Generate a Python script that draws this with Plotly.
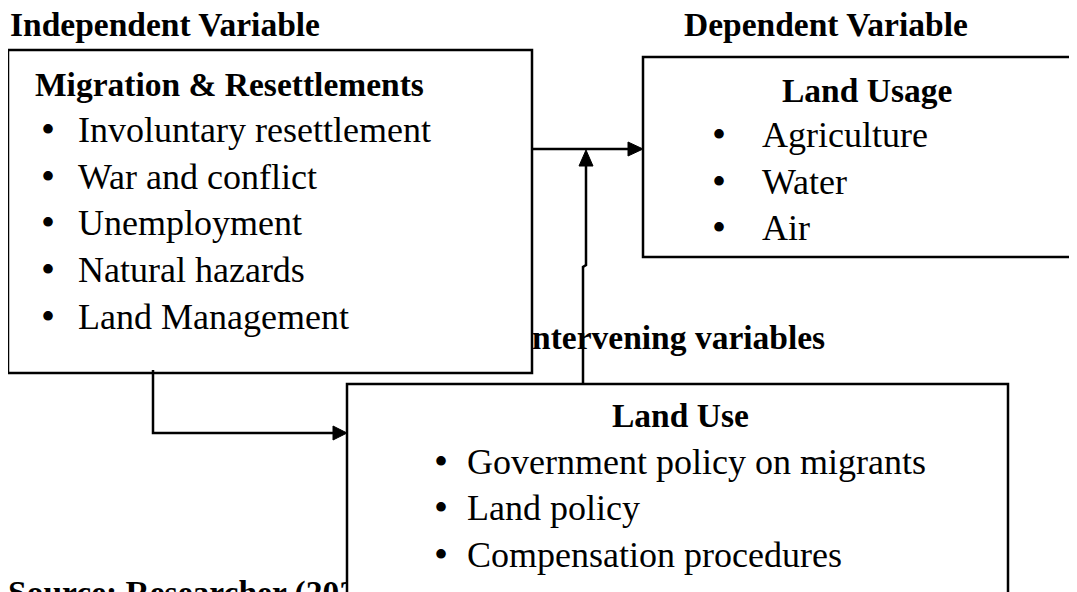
import plotly.graph_objects as go

W, H = 1077, 592
OFF = 8  # page body margin offset compensation
FONT = "Liberation Serif"
HEAD_SIZE = 33.5
BODY_SIZE = 36
BULLET_SIZE = 40

# ---- text content ----
independent_title = "Independent Variable"
dependent_title = "Dependent Variable"
intervening_title = "Intervening variables"
migration_heading = "Migration & Resettlements"
migration_items = ["Involuntary resettlement", "War and conflict", "Unemployment",
                   "Natural hazards", "Land Management"]
usage_heading = "Land Usage"
usage_items = ["Agriculture", "Water", "Air"]
landuse_heading = "Land Use"
landuse_items = ["Government policy on migrants", "Land policy", "Compensation procedures"]
source_note = "Source: Researcher (2024)"

# ---- layout (pixel positions, y downward) ----
mig_box = (8, 50, 532, 373)
usage_box = (643, 57, 1095, 257)
use_box = (347, 384, 1008, 620)

mig_rows = [130, 177, 223, 270, 317]
usage_rows = [135, 182, 228]
use_rows = [462, 508, 555]

fig = go.Figure()

# texts partially hidden behind boxes -> traces (drawn below the box shapes)
fig.add_trace(go.Scatter(x=[519], y=[341], mode="text", text=[intervening_title],
                         textposition="middle right",
                         textfont=dict(family=FONT, size=HEAD_SIZE, color="black", weight="bold"),
                         hoverinfo="skip", showlegend=False))
fig.add_trace(go.Scatter(x=[8], y=[596], mode="text", text=[source_note],
                         textposition="middle right",
                         textfont=dict(family=FONT, size=HEAD_SIZE, color="black", weight="bold"),
                         hoverinfo="skip", showlegend=False))

shapes = []
LW = 2.5
for (x0, y0, x1, y1) in [mig_box, usage_box, use_box]:
    shapes.append(dict(type="rect", x0=x0, y0=y0, x1=x1, y1=y1, xref="x", yref="y",
                       line=dict(color="black", width=LW), fillcolor="white", layer="above"))

def line(path):
    shapes.append(dict(type="path", path=path, xref="x", yref="y",
                       line=dict(color="black", width=LW), layer="above"))

def tri(path):
    shapes.append(dict(type="path", path=path, xref="x", yref="y",
                       line=dict(color="black", width=1), fillcolor="black", layer="above"))

# horizontal arrow Migration -> Land Usage
line("M 532 149 L 630 149")
tri("M 628 142 L 643 149 L 628 156 Z")
# vertical arrow from Land Use up to the horizontal arrow
line("M 583 384 L 583 267 L 586 265 L 586 164")
tri("M 579 166 L 586 150 L 593 166 Z")
# elbow arrow Migration -> Land Use
line("M 153 370 L 153 433 L 334 433")
tri("M 333 426 L 347 433 L 333 440 Z")

fig.update_layout(shapes=shapes)

ann = []
def txt(x, y, s, bold=False, size=None):
    ann.append(dict(x=x, y=y, xref="x", yref="y", text=("<b>%s</b>" % s) if bold else s,
                    showarrow=False, xanchor="left", yanchor="middle",
                    font=dict(family=FONT, size=size or (HEAD_SIZE if bold else BODY_SIZE),
                              color="black")))

txt(8, 24, independent_title, bold=True)
txt(682, 24, dependent_title, bold=True)
txt(33, 84, migration_heading, bold=True)
for y, s in zip(mig_rows, migration_items):
    txt(39, y - 1, "•", size=BULLET_SIZE)
    txt(76, y, s)
txt(780, 90, usage_heading, bold=True)
for y, s in zip(usage_rows, usage_items):
    txt(710, y - 1, "•", size=BULLET_SIZE)
    txt(760, y, s)
txt(610, 415, landuse_heading, bold=True)
for y, s in zip(use_rows, landuse_items):
    txt(432, y - 1, "•", size=BULLET_SIZE)
    txt(465, y, s)
fig.update_layout(annotations=ann)

fig.update_layout(
    width=W, height=H, margin=dict(l=0, r=0, t=0, b=0),
    paper_bgcolor="white", plot_bgcolor="white",
    xaxis=dict(range=[OFF, W + OFF], visible=False, fixedrange=True),
    yaxis=dict(range=[H + OFF, OFF], visible=False, fixedrange=True),
    showlegend=False,
)
fig.write_html("out.html")
